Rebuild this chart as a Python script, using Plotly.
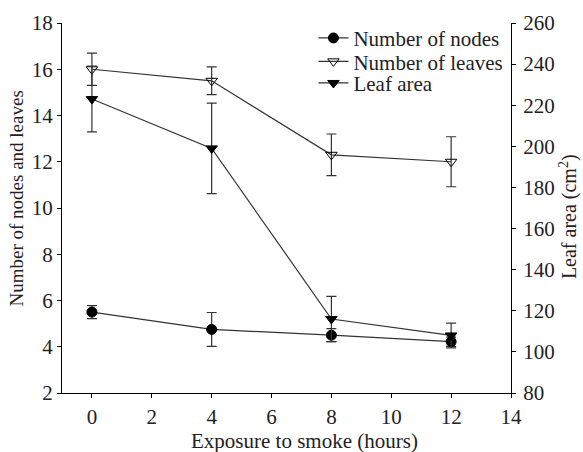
import plotly.graph_objects as go

hours = [0, 4, 8, 12]
nodes = [5.5, 4.75, 4.5, 4.22]
nodes_err = [0.28, 0.73, 0.28, 0.2]
leaves = [16.0, 15.5, 12.3, 12.0]
leaves_err = [0.7, 0.6, 0.9, 1.08]
leaf_area = [223, 199, 116, 108]
leaf_area_err = [16, 22, 11, 6]

FONT = "Liberation Serif, Times New Roman, serif"
LC = "#333333"
TXT = "#222222"

fig = go.Figure()

def add(y, err, name, symbol, yaxis, legend):
    fig.add_trace(go.Scatter(
        x=hours, y=y, name=name, mode="lines+markers", yaxis=yaxis,
        legend=legend,
        line=dict(color=LC, width=1.2),
        marker=dict(symbol=symbol, size=10, color="black",
                    line=dict(color="black", width=1)),
        error_y=dict(type="data", array=err, visible=True, color=LC,
                     thickness=1.2, width=5),
    ))

add(nodes, nodes_err, "Number of nodes", "circle", "y", "legend")
add(leaves, leaves_err, "Number of leaves", "triangle-down-open", "y", "legend2")
add(leaf_area, leaf_area_err, "Leaf area", "triangle-down", "y2", "legend3")

axis_common = dict(showline=True, linecolor="black", linewidth=1.2,
                   ticks="outside", ticklen=4, tickcolor="black",
                   showgrid=False, zeroline=False,
                   tickfont=dict(family=FONT, size=21, color=TXT))

def leg(y):
    return dict(x=0.56, y=y, xanchor="left", yanchor="middle",
                bgcolor="rgba(0,0,0,0)", font=dict(family=FONT, size=21, color=TXT),
                itemwidth=30)

fig.update_layout(
    width=583, height=452,
    margin=dict(l=62, r=72, t=23, b=59),
    plot_bgcolor="white", paper_bgcolor="white",
    font=dict(family=FONT, size=21, color=TXT),
    xaxis=dict(range=[-1, 14], tickvals=[0, 2, 4, 6, 8, 10, 12, 14],
               ticklabelstandoff=1, **axis_common),
    yaxis=dict(range=[2, 18], tickvals=[2, 4, 6, 8, 10, 12, 14, 16, 18],
               **axis_common),
    yaxis2=dict(range=[80, 260], tickvals=list(range(80, 261, 20)),
                overlaying="y", side="right", anchor="x",
                ticklabelstandoff=3, **axis_common),
    legend=leg(0.9586),
    legend2=leg(0.8954),
    legend3=leg(0.837),
    showlegend=True,
    annotations=[
        dict(text="Exposure to smoke (hours)", xref="paper", yref="paper",
             x=0.5412, y=-0.1284, xanchor="center", yanchor="middle",
             showarrow=False, font=dict(family=FONT, size=21, color=TXT)),
        dict(text="Number of nodes and leaves", xref="paper", yref="paper",
             x=-0.1024, y=0.5257, xanchor="center", yanchor="middle",
             textangle=-90, showarrow=False,
             font=dict(family=FONT, size=19, color=TXT)),
        dict(text="Leaf area (cm<sup>2</sup>)", xref="paper", yref="paper",
             x=1.1269, y=0.478, xanchor="center", yanchor="middle",
             textangle=-90, showarrow=False,
             font=dict(family=FONT, size=20, color=TXT)),
    ],
)

fig.write_html("out.html", config={"displayModeBar": False},
               post_script="document.body.style.margin='0';document.body.style.overflow='hidden';")
